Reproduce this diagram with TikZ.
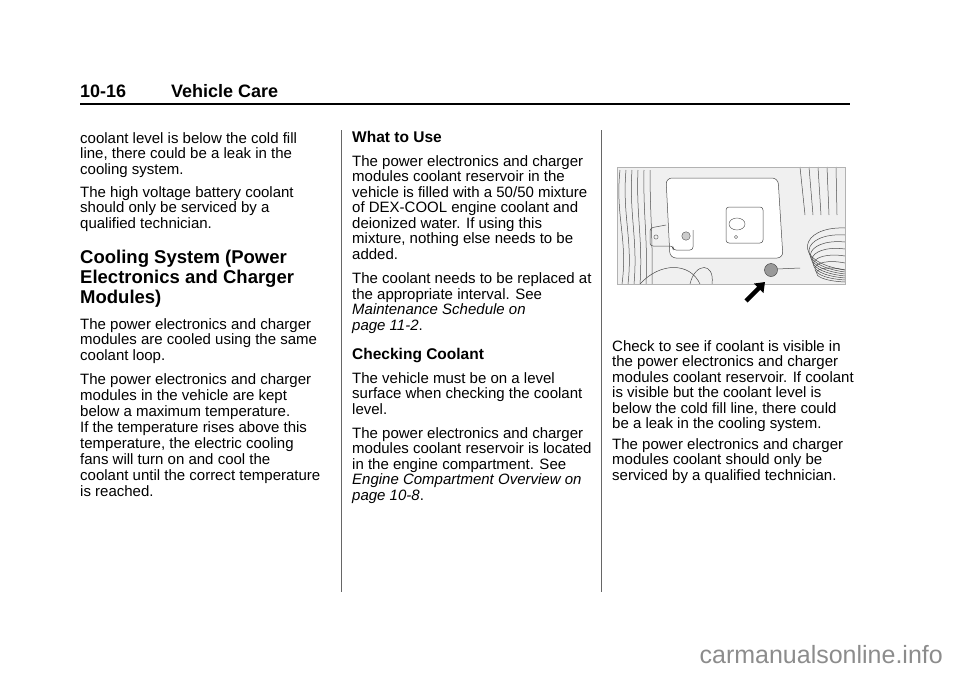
\documentclass[tikz,border=0pt]{standalone}
\usepackage{fontspec}
\setmainfont{Liberation Sans}
\usetikzlibrary{calc,shapes.geometric,arrows.meta}

\newcommand{\paralines}[1]{\begin{tabular}[t]{@{}l@{}}#1\end{tabular}}

\tikzset{
  body/.style={anchor=base west, inner sep=0pt,
    font=\fontsize{15}{15.5}\selectfont},
  bodywide/.style={body, font=\fontsize{15}{16}\selectfont},
  headbig/.style={anchor=base west, inner sep=0pt,
    font=\fontsize{18.5}{20}\selectfont\bfseries},
  headsmall/.style={anchor=base west, inner sep=0pt,
    font=\fontsize{15.5}{16}\selectfont\bfseries},
  photoline/.style={draw=black!70, line width=0.5pt},
}

\begin{document}
\begin{tikzpicture}[x=1pt,y=-1pt]
  \useasboundingbox (0,0) rectangle (960,672);

  % running head
  \node[anchor=base west, inner sep=0pt, font=\fontsize{18}{20}\selectfont\bfseries] (pno) at (80,97) {10-16};
  \node[anchor=base west, inner sep=0pt, font=\fontsize{18}{20}\selectfont\bfseries] (chap) at (171,97) {Vehicle Care};
  \draw[line width=2pt] (80,104) -- (850,104);

  % column rules
  \draw[black!60, line width=0.8pt] (341,130) -- (341,592);
  \draw[black!60, line width=0.8pt] (601,130) -- (601,592);

  % column 1
  \node[body] (c1a) at (80,143) {\paralines{coolant level is below the cold fill\\line, there could be a leak in the\\cooling system.}};
  \node[body] (c1b) at (80,197) {\paralines{The high voltage battery coolant\\should only be serviced by a\\qualified technician.}};
  \node[headbig] (c1h) at (80,263) {\paralines{Cooling System (Power\\Electronics and Charger\\Modules)}};
  \node[body] (c1c) at (80,329) {\paralines{The power electronics and charger\\modules are cooled using the same\\coolant loop.}};
  \node[bodywide] (c1d) at (80,384) {\paralines{The power electronics and charger\\modules in the vehicle are kept\\below a maximum temperature.\\If the temperature rises above this\\temperature, the electric cooling\\fans will turn on and cool the\\coolant until the correct temperature\\is reached.}};

  % column 2
  \node[headsmall] (c2h1) at (352,142) {What to Use};
  \node[body] (c2a) at (352,166) {\paralines{The power electronics and charger\\modules coolant reservoir in the\\vehicle is filled with a 50/50 mixture\\of DEX-COOL engine coolant and\\deionized water. If using this\\mixture, nothing else needs to be\\added.}};
  \node[body] (c2b) at (352,283.5) {\paralines{The coolant needs to be replaced at\\the appropriate interval. See\\\textit{Maintenance Schedule on}\\\textit{page 11-2}.}};
  \node[headsmall] (c2h2) at (352,359) {Checking Coolant};
  \node[body] (c2c) at (352,383) {\paralines{The vehicle must be on a level\\surface when checking the coolant\\level.}};
  \node[body] (c2d) at (352,438) {\paralines{The power electronics and charger\\modules coolant reservoir is located\\in the engine compartment. See\\\textit{Engine Compartment Overview on}\\\textit{page 10-8}.}};

  % column 3: engine bay picture
  \fill[black!6] (617,167) rectangle (845,284);
  % wiring at the left
  \foreach \i in {0,1,...,5}{
    \draw[photoline] ({620+\i*6},170) .. controls ({615+\i*7},215) and ({628+\i*5},240) .. ({622+\i*6},284);
  }
  % hose coils at the right
  \foreach \i in {0,1,...,6}{
    \draw[photoline] (845,{228+\i*7}) .. controls ({800+\i*2},{226+\i*6}) and ({790+\i*2},{262+\i*3}) .. ({845},{270+\i*2});
  }
  \foreach \i in {0,1,...,4}{
    \draw[photoline] ({800+\i*9},167) -- ({805+\i*8},215);
  }
  % cover
  \draw[photoline, fill=white, rounded corners=6pt] (666,178) -- (778,178) -- (783,258) -- (670,258) -- cycle;
  \draw[photoline, rounded corners=3pt] (666,225) -- (650,228) -- (650,246) -- (673,246) -- (673,250) -- (693,250) -- (693,230);
  \node[circle, draw=black!70, inner sep=1.5pt] (bolt1) at (656,237) {};
  \node[circle, draw=black!70, fill=black!20, inner sep=3pt] (clip) at (686,236) {};
  \draw[photoline, rounded corners=3pt] (726,207) rectangle (763,243);
  \node[ellipse, draw=black!70, minimum width=16pt, minimum height=12pt, inner sep=0pt] (capa) at (737,224) {};
  \node[circle, draw=black!70, inner sep=1.2pt] (bolt2) at (736,237) {};
  % lower hoses and reservoir
  \draw[photoline] (640,284) .. controls (660,262) and (690,262) .. (700,284);
  \draw[photoline] (690,284) .. controls (695,262) and (715,262) .. (712,284);
  \node[circle, draw=black!80, fill=black!40, minimum size=13pt, inner sep=0pt] (rescap) at (771,270) {};
  \draw[photoline] (777,269) -- (800,268);
  \draw[black!30] (617,167) rectangle (845,284);
  % pointer
  \coordinate (tail) at (746,301);
  \draw[line width=4.5pt, -{Triangle[length=9pt, width=13pt]}] (tail) -- ($(rescap)+(-6,12)$);

  % column 3 text
  \node[body] (c3a) at (612,351) {\paralines{Check to see if coolant is visible in\\the power electronics and charger\\modules coolant reservoir. If coolant\\is visible but the coolant level is\\below the cold fill line, there could\\be a leak in the cooling system.}};
  \node[body] (c3b) at (612,449) {\paralines{The power electronics and charger\\modules coolant should only be\\serviced by a qualified technician.}};

  % watermark
  \node[anchor=base east, inner sep=0pt, text=black!45, font=\fontsize{25}{28}\selectfont] (wm) at (943,663) {carmanualsonline.info};
\end{tikzpicture}
\end{document}
